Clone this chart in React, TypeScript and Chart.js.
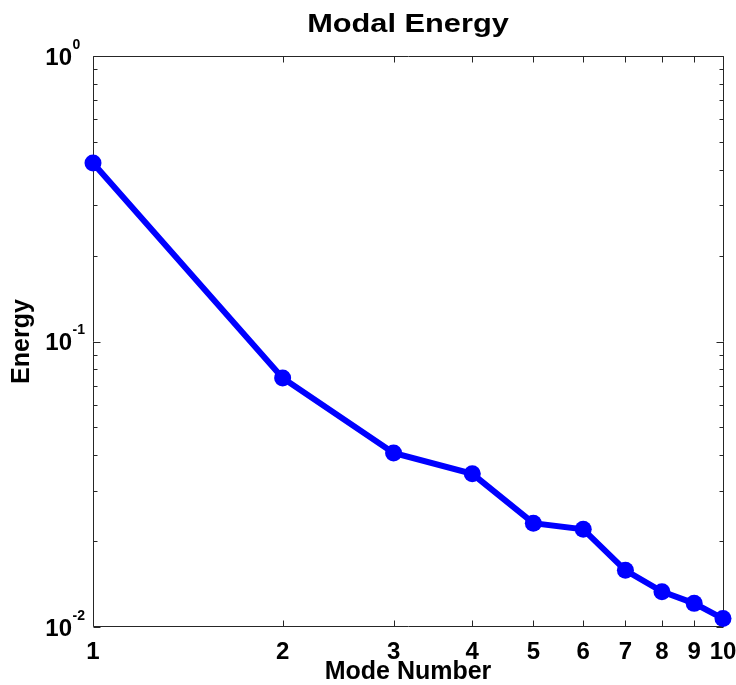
import { useEffect, useRef } from 'react';
import { Chart, registerables } from 'chart.js';

Chart.register(...registerables);

const modes = [1, 2, 3, 4, 5, 6, 7, 8, 9, 10];
const energy = [0.422, 0.0745, 0.0407, 0.0344, 0.0231, 0.022, 0.0158, 0.0133, 0.0121, 0.0107];
const xTickValues = [1, 2, 3, 4, 5, 6, 7, 8, 9, 10];
const yMajorValues = [1, 0.1, 0.01];
const yMajorExponents = ['0', '-1', '-2'];
const yMinorValues = [0.02, 0.03, 0.04, 0.05, 0.06, 0.07, 0.08, 0.09, 0.2, 0.3, 0.4, 0.5, 0.6, 0.7, 0.8, 0.9];
const titleText = 'Modal Energy';
const xLabel = 'Mode Number';
const yLabel = 'Energy';

const FONT = '"Liberation Sans", Arial, Helvetica, sans-serif';

const framePlugin = {
  id: 'matlabFrame',
  beforeDatasetsDraw(chart: any) {
    const { ctx, chartArea: a, scales } = chart;
    const xs = scales.x;
    const ys = scales.y;
    ctx.save();
    ctx.strokeStyle = '#262626';
    ctx.lineWidth = 1;
    const L = Math.round(a.left) + 0.5;
    const R = Math.round(a.right) + 0.5;
    const T = Math.round(a.top) + 0.5;
    const B = Math.round(a.bottom) - 0.5;
    ctx.beginPath();
    ctx.moveTo(L, T);
    ctx.lineTo(R, T);
    ctx.lineTo(R, B);
    ctx.lineTo(L, B);
    ctx.closePath();
    ctx.stroke();
    ctx.beginPath();
    for (const v of xTickValues) {
      const px = Math.round(xs.getPixelForValue(v)) + 0.5;
      ctx.moveTo(px, B);
      ctx.lineTo(px, B - 6);
      ctx.moveTo(px, T);
      ctx.lineTo(px, T + 6);
    }
    for (const v of yMajorValues) {
      const py = Math.round(ys.getPixelForValue(v)) + 0.5;
      ctx.moveTo(L, py);
      ctx.lineTo(L + 7, py);
      ctx.moveTo(R, py);
      ctx.lineTo(R - 7, py);
    }
    for (const v of yMinorValues) {
      const py = Math.round(ys.getPixelForValue(v)) + 0.5;
      ctx.moveTo(L, py);
      ctx.lineTo(L + 4, py);
      ctx.moveTo(R, py);
      ctx.lineTo(R - 4, py);
    }
    ctx.stroke();
    ctx.restore();
  },
  afterDraw(chart: any) {
    const { ctx, chartArea: a, scales } = chart;
    const ys = scales.y;
    ctx.save();
    ctx.fillStyle = '#000';
    // title
    ctx.font = 'bold 25px ' + FONT;
    ctx.textAlign = 'center';
    ctx.textBaseline = 'alphabetic';
    ctx.save();
    ctx.translate((a.left + a.right) / 2, 32);
    ctx.scale(1.23, 1);
    ctx.fillText(titleText, 0, 0);
    ctx.restore();
    // y tick labels with exponents
    yMajorValues.forEach((v, i) => {
      const py = ys.getPixelForValue(v);
      ctx.font = 'bold 24px ' + FONT;
      ctx.textAlign = 'right';
      ctx.fillText('10', 72, py + 8.5);
      ctx.font = 'bold 14px ' + FONT;
      ctx.textAlign = 'left';
      ctx.fillText(yMajorExponents[i], 72.5, py - 7.5);
    });
    ctx.restore();
  },
};

export default function App() {
  const ref = useRef<HTMLCanvasElement | null>(null);
  useEffect(() => {
    if (!ref.current) return;
    Chart.defaults.font.family = FONT;
    const chart = new Chart(ref.current, {
      type: 'line',
      data: {
        datasets: [
          {
            data: modes.map((m, i) => ({ x: m, y: energy[i] })),
            borderColor: '#0000ff',
            backgroundColor: '#0000ff',
            borderWidth: 6,
            pointRadius: 8.5,
            pointBorderWidth: 0,
            pointBackgroundColor: '#0000ff',
            tension: 0,
            clip: false as any,
          },
        ],
      },
      options: {
        animation: false,
        responsive: false,
        maintainAspectRatio: false,
        layout: { padding: { top: 56, right: 13, left: 0, bottom: 0 } },
        plugins: {
          legend: { display: false },
          tooltip: { enabled: false },
          title: { display: false },
        },
        scales: {
          x: {
            type: 'logarithmic',
            position: 'bottom',
            min: 1,
            max: 10,
            grid: { display: false },
            border: { display: false },
            afterBuildTicks: (s: any) => {
              s.ticks = xTickValues.map((v) => ({ value: v }));
            },
            afterFit: (s: any) => {
              s.height = 58;
              s.paddingLeft = 0;
              s.paddingRight = 0;
            },
            ticks: {
              autoSkip: false,
              maxRotation: 0,
              padding: 3,
              color: '#000',
              font: { size: 24, weight: 'bold' },
              callback: (v: any) => String(v),
            },
            title: {
              display: true,
              text: xLabel,
              color: '#000',
              font: { size: 25, weight: 'bold', lineHeight: 1 },
              padding: { top: 0, bottom: 0 },
            },
          },
          y: {
            type: 'logarithmic',
            min: 0.01,
            max: 1,
            grid: { display: false },
            border: { display: false },
            ticks: { display: false },
            afterFit: (s: any) => {
              s.width = 93;
              s.paddingTop = 0;
              s.paddingBottom = 0;
            },
            title: {
              display: true,
              text: yLabel,
              color: '#000',
              font: { size: 25, weight: 'bold' },
              padding: { top: 7, bottom: 0 },
            },
          },
        },
      } as any,
      plugins: [framePlugin],
    });
    return () => chart.destroy();
  }, []);
  return (
    <canvas
      ref={ref}
      width={736}
      height={685}
      style={{ position: 'fixed', left: 0, top: 0, width: 736, height: 685 }}
    />
  );
}
